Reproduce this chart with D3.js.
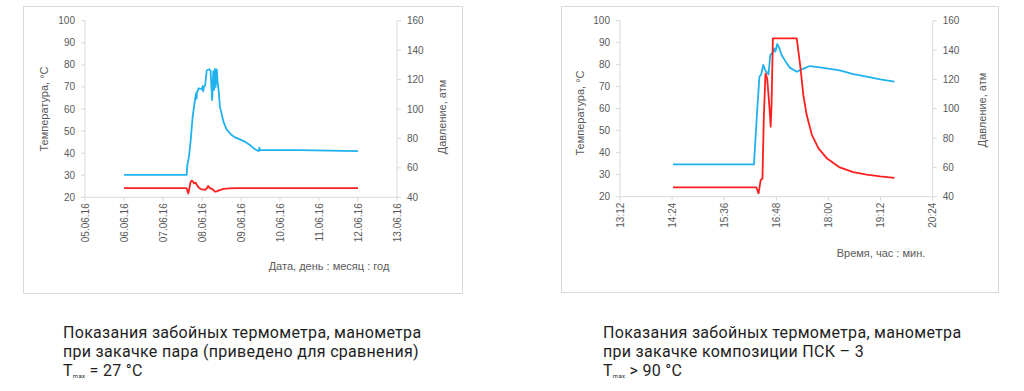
<!DOCTYPE html>
<html>
<head>
<meta charset="utf-8">
<script src="https://cdn.jsdelivr.net/npm/d3@7"></script>
<style>
  body { margin: 0; background: #fff; }
  svg { display: block; }
  .tick-label { font-family: "Liberation Sans", Arial, sans-serif; font-size: 10px; fill: #595959; }
  .axis-title { font-family: "Liberation Sans", Arial, sans-serif; font-size: 11px; fill: #595959; }
  .caption { font-family: Roboto, "Noto Sans", sans-serif; font-size: 16px; fill: #1e1e1e; letter-spacing: 0.3px; }
</style>
</head>
<body>
<div id="chart"></div>
<script>
// left panel: steam injection, x = days since 05.06.16
var steamDateTicks = ["05.06.16", "06.06.16", "07.06.16", "08.06.16", "09.06.16",
  "10.06.16", "11.06.16", "12.06.16", "13.06.16"];
var steamTempDay = [1.0, 2.60, 2.625, 2.65, 2.68, 2.71, 2.74, 2.77, 2.80, 2.84, 2.87,
  2.93, 3.00, 3.077, 3.12, 3.16, 3.20, 3.25, 3.29, 3.33, 3.38, 3.42, 3.55, 3.70, 3.89, 7.0];
var steamTemp = [24.2, 24.2, 23.0, 21.8, 24.5, 27.1, 27.5, 27.0, 26.3, 26.6, 25.5,
  24.1, 23.6, 23.4, 24.0, 25.1, 24.1, 23.9, 23.3, 22.6, 22.7, 23.0, 23.8, 24.0, 24.2, 24.2];
var steamPressDay = [1.0, 2.607, 2.624, 2.667, 2.71, 2.76, 2.82, 2.85, 2.86, 2.87, 2.92,
  2.99, 3.02, 3.03, 3.05, 3.08, 3.12, 3.137, 3.19, 3.22, 3.26, 3.29, 3.31, 3.33, 3.35,
  3.38, 3.40, 3.43, 3.46, 3.55, 3.63, 3.76, 3.85, 3.97, 4.10, 4.23, 4.36, 4.44, 4.46,
  4.47, 4.48, 4.49, 5.5, 7.0];
var steamPress = [55.2, 55.2, 62, 67.6, 78.9, 94.8, 106.1, 110.7, 107, 111.5, 114.1,
  113.4, 115.6, 112, 115, 116, 126, 126.5, 127, 126, 106.1, 125.8, 113, 127.2, 115,
  126.9, 118.4, 111.6, 101.6, 91.4, 86.2, 82.3, 80.7, 79.4, 77.8, 75.5, 72.6, 71.5, 71.6,
  73.7, 71.8, 72.2, 72.0, 71.4];

// right panel: PSK-3 injection, x = hours of the day
var pskTimeTicks = ["13:12", "14:24", "15:36", "16:48", "18:00", "19:12", "20:24"];
var pskTempHour = [14.42, 16.34, 16.39, 16.44, 16.48, 16.51, 16.55, 16.59, 16.64, 16.67,
  16.69, 16.72, 17.27, 17.35, 17.42, 17.50, 17.62, 17.77, 17.96, 18.26, 18.57, 18.88,
  19.19, 19.52];
var pskTemp = [24.2, 24.2, 21.5, 27.6, 28.2, 54.8, 76.1, 73.6, 60.9, 51.8,
  62, 92.0, 92.0, 79.5, 66.5, 57, 48, 42, 37.5, 33.3, 31.2, 30.0,
  29.2, 28.6];
var pskPressHour = [14.42, 16.285, 16.35, 16.41, 16.45, 16.50, 16.54, 16.58, 16.62, 16.66,
  16.70, 16.73, 16.75, 16.78, 16.82, 16.87, 16.92, 17.04, 17.11, 17.27, 17.38, 17.57,
  17.80, 18.26, 18.57, 18.88, 19.19, 19.52];
var pskPress = [62.0, 62.0, 94.5, 121.8, 123.3, 129.8, 126.4, 125, 123.3, 136.6,
  137.7, 138.5, 141.1, 139, 144.1, 141.1, 136.6, 130.9, 128.0, 125.2, 126.8, 129.1,
  128.2, 126.2, 123.6, 121.8, 120.0, 118.4];

var tempTicks = [20, 30, 40, 50, 60, 70, 80, 90, 100];
var pressTicks = [40, 60, 80, 100, 120, 140, 160];

var steamCaption = ["Показания забойных термометра, манометра",
  "при закачке пара (приведено для сравнения)", " = 27 °C"];
var pskCaption = ["Показания забойных термометра, манометра",
  "при закачке композиции ПСК – 3", " > 90 °C"];

var width = 1024, height = 391;
var axisColor = "#d9d9d9";

var svg = d3.select("#chart").append("svg")
    .attr("width", width)
    .attr("height", height);

svg.append("rect").attr("width", width).attr("height", height).attr("fill", "#fff");

var parseDate = d3.timeParse("%d.%m.%y");
var baseDate = parseDate(steamDateTicks[0]);
function dayToDate(d) {
    return new Date(baseDate.getTime() + d * 864e5);
}
function hhmmToHours(s) {
    var p = s.split(":");
    return +p[0] + p[1] / 60;
}

function drawPanel(cfg) {
    var g = svg.append("g");

    // chart frame
    g.append("rect")
        .attr("x", cfg.frame[0] + 0.5).attr("y", cfg.frame[1] + 0.5)
        .attr("width", cfg.frame[2]).attr("height", cfg.frame[3])
        .attr("fill", "none").attr("stroke", axisColor);

    var x = cfg.x;
    var yT = d3.scaleLinear().domain([20, 100]).range([cfg.bottom, cfg.top]);
    var yP = d3.scaleLinear().domain([40, 160]).range([cfg.bottom, cfg.top]);

    // axes
    var ax = g.append("g").attr("stroke", axisColor).attr("stroke-width", 1);
    ax.append("line").attr("x1", cfg.left).attr("x2", cfg.left)
        .attr("y1", cfg.top).attr("y2", cfg.bottom);
    ax.append("line").attr("x1", cfg.right).attr("x2", cfg.right)
        .attr("y1", cfg.top).attr("y2", cfg.bottom);
    ax.append("line").attr("x1", cfg.left).attr("x2", cfg.right)
        .attr("y1", cfg.bottom).attr("y2", cfg.bottom);

    ax.selectAll(".tl").data(tempTicks).enter().append("line")
        .attr("x1", cfg.left - 4).attr("x2", cfg.left)
        .attr("y1", function(d) { return yT(d); })
        .attr("y2", function(d) { return yT(d); });
    ax.selectAll(".tr").data(pressTicks).enter().append("line")
        .attr("x1", cfg.right).attr("x2", cfg.right + 4)
        .attr("y1", function(d) { return yP(d); })
        .attr("y2", function(d) { return yP(d); });
    ax.selectAll(".tx").data(cfg.xTicks).enter().append("line")
        .attr("x1", function(d) { return x(d.v); })
        .attr("x2", function(d) { return x(d.v); })
        .attr("y1", cfg.bottom).attr("y2", cfg.bottom + 4);

    // tick labels
    g.selectAll(".lt").data(tempTicks).enter().append("text")
        .attr("class", "tick-label")
        .attr("x", cfg.left - 10)
        .attr("y", function(d) { return yT(d); })
        .attr("dy", "0.35em")
        .attr("text-anchor", "end")
        .text(function(d) { return d; });
    g.selectAll(".rt").data(pressTicks).enter().append("text")
        .attr("class", "tick-label")
        .attr("x", cfg.right + 10)
        .attr("y", function(d) { return yP(d); })
        .attr("dy", "0.35em")
        .text(function(d) { return d; });
    g.selectAll(".xt").data(cfg.xTicks).enter().append("text")
        .attr("class", "tick-label")
        .attr("transform", function(d) {
            return "translate(" + x(d.v) + "," + (cfg.bottom + 6) + ") rotate(-90)";
        })
        .attr("dy", "0.35em")
        .attr("text-anchor", "end")
        .text(function(d) { return d.label; });

    // axis titles
    g.append("text").attr("class", "axis-title")
        .attr("transform", "translate(" + cfg.yTitle[0] + "," + cfg.yTitle[1] + ") rotate(-90)")
        .attr("text-anchor", "middle").attr("dy", "0.35em")
        .text("Температура, °С");
    g.append("text").attr("class", "axis-title")
        .attr("transform", "translate(" + cfg.pTitle[0] + "," + cfg.pTitle[1] + ") rotate(-90)")
        .attr("text-anchor", "middle").attr("dy", "0.35em")
        .text("Давление, атм");
    g.append("text").attr("class", "axis-title")
        .attr("x", cfg.xTitle[0]).attr("y", cfg.xTitle[1])
        .attr("text-anchor", "middle")
        .text(cfg.xTitleText);

    // series
    var tempLine = d3.line()
        .x(function(d) { return x(d[0]); })
        .y(function(d) { return yT(d[1]); });
    var pressLine = d3.line()
        .x(function(d) { return x(d[0]); })
        .y(function(d) { return yP(d[1]); });

    g.append("path").datum(cfg.press)
        .attr("d", pressLine)
        .attr("fill", "none").attr("stroke", "#1fb2ee")
        .attr("stroke-width", 1.8).attr("stroke-linejoin", "round");
    g.append("path").datum(cfg.temp)
        .attr("d", tempLine)
        .attr("fill", "none").attr("stroke", "#ff1f1f")
        .attr("stroke-width", 1.8).attr("stroke-linejoin", "round");

    // caption under the chart
    var cap = svg.append("text").attr("class", "caption")
        .attr("x", cfg.capX).attr("y", 338);
    cap.append("tspan").attr("x", cfg.capX).attr("y", 338).text(cfg.caption[0]);
    cap.append("tspan").attr("x", cfg.capX).attr("y", 356.8).text(cfg.caption[1]);
    cap.append("tspan").attr("x", cfg.capX).attr("y", 375.6).text("T");
    cap.append("tspan").attr("dy", 2.5).style("font-size", "6px").text("max");
    cap.append("tspan").attr("dy", -2.5).text(cfg.caption[2]);
}

// left chart, time scale in days
var xSteam = d3.scaleTime()
    .domain([parseDate(steamDateTicks[0]), parseDate(steamDateTicks[steamDateTicks.length - 1])])
    .range([85, 397]);

drawPanel({
    frame: [23, 6, 439, 287],
    left: 85, right: 397, top: 20.7, bottom: 197.3,
    x: xSteam,
    xTicks: steamDateTicks.map(function(s) { return {v: parseDate(s), label: s}; }),
    temp: steamTempDay.map(function(d, i) { return [dayToDate(d), steamTemp[i]]; }),
    press: steamPressDay.map(function(d, i) { return [dayToDate(d), steamPress[i]]; }),
    yTitle: [44, 109], pTitle: [442, 117],
    xTitle: [329, 270], xTitleText: "Дата, день : месяц : год",
    capX: 63, caption: steamCaption
});

// right chart, linear scale in hours
var xPsk = d3.scaleLinear()
    .domain([hhmmToHours(pskTimeTicks[0]), hhmmToHours(pskTimeTicks[pskTimeTicks.length - 1])])
    .range([620, 932.7]);

drawPanel({
    frame: [561, 6, 437, 286],
    left: 620, right: 932.7, top: 20.7, bottom: 196.7,
    x: xPsk,
    xTicks: pskTimeTicks.map(function(s) { return {v: hhmmToHours(s), label: s}; }),
    temp: pskTempHour.map(function(h, i) { return [h, pskTemp[i]]; }),
    press: pskPressHour.map(function(h, i) { return [h, pskPress[i]]; }),
    yTitle: [580, 113], pTitle: [982, 110],
    xTitle: [881, 257], xTitleText: "Время, час : мин.",
    capX: 603, caption: pskCaption
});
</script>
</body>
</html>
